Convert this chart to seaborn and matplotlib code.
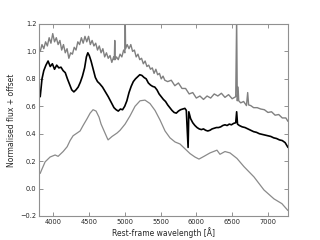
import numpy as np
import pandas as pd
import seaborn as sns
import matplotlib
matplotlib.use("Agg")
import matplotlib.pyplot as plt

# upper spectrum (noisy, host emission lines)
top_wave = [3820, 3845, 3870, 3895, 3920, 3945, 3970, 3995, 4020, 4045,
            4070, 4095, 4120, 4145, 4170, 4195, 4220, 4245, 4270, 4295,
            4320, 4345, 4370, 4395, 4420, 4445, 4470, 4495, 4520, 4545,
            4570, 4595, 4620, 4645, 4670, 4695, 4720, 4745, 4770, 4795,
            4820, 4845, 4855, 4861, 4867, 4885, 4910, 4935, 4960, 4985,
            5002, 5007, 5012, 5035, 5060, 5085, 5110, 5135, 5160, 5185,
            5210, 5235, 5260, 5285, 5310, 5335, 5360, 5385, 5410, 5435,
            5460, 5485, 5510, 5535, 5560, 5600, 5650, 5700, 5750, 5800,
            5850, 5900, 5950, 6000, 6050, 6100, 6150, 6200, 6250, 6300,
            6350, 6400, 6450, 6500, 6550, 6563, 6572, 6583, 6592, 6620,
            6660, 6700, 6717, 6730, 6760, 6800, 6850, 6900, 6950, 7000,
            7050, 7100, 7150, 7200, 7250, 7280]
top_flux = [1.00, 1.05, 1.02, 1.07, 1.04, 1.10, 1.06, 1.13, 1.07, 1.10,
            1.05, 1.08, 1.01, 1.05, 0.99, 1.02, 0.95, 0.99, 0.98, 1.03,
            1.01, 1.07, 1.05, 1.10, 1.06, 1.11, 1.07, 1.11, 1.05, 1.08,
            1.04, 1.06, 1.01, 1.04, 0.99, 1.02, 0.96, 0.99, 0.95, 0.97,
            0.92, 0.96, 0.94, 1.08, 0.94, 0.96, 0.94, 0.98, 0.96, 1.01,
            0.99, 1.25, 1.02, 1.05, 1.02, 1.05, 1.00, 1.01, 0.96, 0.98,
            0.94, 0.95, 0.91, 0.93, 0.89, 0.90, 0.87, 0.88, 0.84, 0.87,
            0.83, 0.84, 0.80, 0.82, 0.79, 0.78, 0.79, 0.75, 0.77, 0.73,
            0.73, 0.69, 0.70, 0.66, 0.675, 0.65, 0.675, 0.66, 0.69, 0.675,
            0.695, 0.665, 0.685, 0.655, 0.67, 1.25, 0.64, 0.74, 0.64, 0.625,
            0.635, 0.605, 0.70, 0.61, 0.605, 0.59, 0.59, 0.58, 0.575, 0.555,
            0.56, 0.535, 0.54, 0.515, 0.515, 0.49]

# middle spectrum (black)
mid_wave = [3820, 3845, 3870, 3900, 3930, 3960, 3990, 4020, 4050, 4080,
            4110, 4140, 4170, 4200, 4230, 4260, 4290, 4320, 4350, 4380,
            4410, 4440, 4465, 4485, 4505, 4530, 4560, 4590, 4620, 4650,
            4690, 4730, 4770, 4810, 4850, 4880, 4910, 4940, 4970, 5000,
            5030, 5060, 5090, 5120, 5150, 5180, 5210, 5240, 5270, 5300,
            5330, 5360, 5390, 5420, 5450, 5480, 5510, 5540, 5570, 5600,
            5630, 5660, 5690, 5720, 5750, 5780, 5810, 5840, 5860, 5885,
            5895, 5920, 5950, 5980, 6010, 6040, 6070, 6100, 6130, 6160,
            6190, 6220, 6250, 6280, 6310, 6340, 6370, 6400, 6430, 6460,
            6490, 6520, 6550, 6563, 6575, 6600, 6640, 6680, 6720, 6760,
            6800, 6840, 6880, 6920, 6960, 7000, 7040, 7080, 7120, 7160,
            7200, 7240, 7280]
mid_flux = [0.67, 0.80, 0.86, 0.90, 0.93, 0.89, 0.91, 0.87, 0.90, 0.88,
            0.885, 0.86, 0.845, 0.80, 0.76, 0.72, 0.705, 0.72, 0.74, 0.775,
            0.82, 0.88, 0.96, 0.99, 0.97, 0.93, 0.87, 0.81, 0.78, 0.765,
            0.74, 0.705, 0.67, 0.63, 0.59, 0.575, 0.565, 0.58, 0.575, 0.60,
            0.64, 0.70, 0.745, 0.78, 0.80, 0.815, 0.83, 0.825, 0.81, 0.80,
            0.77, 0.755, 0.745, 0.74, 0.72, 0.69, 0.67, 0.65, 0.635, 0.61,
            0.59, 0.57, 0.555, 0.55, 0.565, 0.575, 0.58, 0.585, 0.57, 0.30,
            0.56, 0.51, 0.48, 0.46, 0.445, 0.435, 0.43, 0.435, 0.425, 0.42,
            0.425, 0.435, 0.44, 0.445, 0.445, 0.45, 0.46, 0.465, 0.46, 0.47,
            0.465, 0.475, 0.48, 0.56, 0.47, 0.46, 0.45, 0.445, 0.435, 0.425,
            0.415, 0.41, 0.40, 0.395, 0.39, 0.385, 0.38, 0.37, 0.365, 0.355,
            0.35, 0.335, 0.30]

# lower spectrum (smooth, grey)
low_wave = [3819, 3843, 3889, 3958, 4028, 4070, 4140, 4196, 4237, 4279,
            4335, 4377, 4419, 4475, 4517, 4558, 4600, 4642, 4670, 4712,
            4754, 4768, 4823, 4893, 4935, 5005, 5074, 5144, 5214, 5283,
            5353, 5423, 5493, 5563, 5632, 5702, 5772, 5842, 5912, 5981,
            6037, 6107, 6191, 6288, 6330, 6400, 6470, 6567, 6665, 6805,
            6944, 7084, 7195, 7279]
low_flux = [0.11, 0.14, 0.195, 0.23, 0.245, 0.235, 0.27, 0.305, 0.35, 0.385,
            0.405, 0.42, 0.46, 0.51, 0.55, 0.575, 0.565, 0.52, 0.47, 0.42,
            0.37, 0.355, 0.38, 0.405, 0.425, 0.47, 0.53, 0.60, 0.64, 0.645,
            0.62, 0.57, 0.50, 0.42, 0.37, 0.34, 0.325, 0.29, 0.255, 0.23,
            0.215, 0.235, 0.26, 0.28, 0.25, 0.27, 0.26, 0.22, 0.16, 0.085,
            -0.01, -0.075, -0.11, -0.16]

x_ticks = [4000, 4500, 5000, 5500, 6000, 6500, 7000]
y_ticks = [-0.2, 0.0, 0.2, 0.4, 0.6, 0.8, 1.0, 1.2]

sns.set_style("ticks")
plt.rcParams['font.family'] = ['DejaVu Sans']

fig = plt.figure(figsize=(3.2, 2.4), dpi=100)
ax = fig.add_axes([0.1234, 0.1, 0.7766, 0.8])

top_df = pd.DataFrame({'wave': top_wave, 'flux': top_flux})
mid_df = pd.DataFrame({'wave': mid_wave, 'flux': mid_flux})
low_df = pd.DataFrame({'wave': low_wave, 'flux': low_flux})

sns.lineplot(data=top_df, x='wave', y='flux', ax=ax, color='#808080',
             linewidth=1.0, estimator=None, sort=False)
sns.lineplot(data=mid_df, x='wave', y='flux', ax=ax, color='black',
             linewidth=1.2, estimator=None, sort=False)
sns.lineplot(data=low_df, x='wave', y='flux', ax=ax, color='#8a8a8a',
             linewidth=0.9, estimator=None, sort=False)

ax.set_xlim(3810, 7280)
ax.set_ylim(-0.2, 1.2)
ax.set_xticks(x_ticks)
ax.set_yticks(y_ticks)
ax.set_yticklabels(['\u22120.2', '0.0', '0.2', '0.4', '0.6', '0.8', '1.0', '1.2'])
ax.tick_params(direction='in', top=True, right=True, length=3, width=0.6,
               color='#808080', labelsize=4.8, pad=2)
for sp in ax.spines.values():
    sp.set_color('#909090')
    sp.set_linewidth(0.8)

ax.set_xlabel('Rest-frame wavelength [\u00c5]', fontsize=5.5, labelpad=2)
ax.set_ylabel('Normalised flux + offset', fontsize=5.5, labelpad=3)

fig.savefig('out.png', dpi=100)
